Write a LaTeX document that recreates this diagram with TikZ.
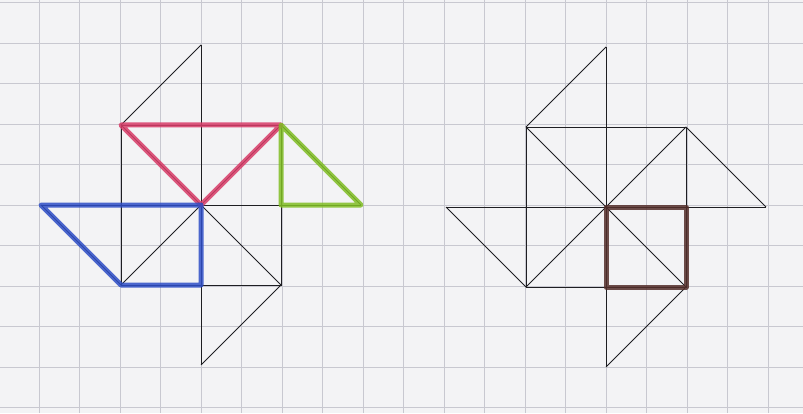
\documentclass[tikz,border=0pt]{standalone}
\usetikzlibrary{calc}
\definecolor{paper}{RGB}{243,243,245}
\definecolor{gridline}{RGB}{200,200,208}
\definecolor{pen}{RGB}{30,30,34}
\definecolor{markred}{RGB}{216,60,104}
\definecolor{markgreen}{RGB}{128,190,36}
\definecolor{markblue}{RGB}{46,78,198}
\definecolor{markbrown}{RGB}{84,46,42}
\tikzset{
  penline/.style={draw=pen, line width=0.9pt},
  marker/.style={draw=#1, line width=5pt, line join=round, line cap=round, opacity=0.85},
}
\newcommand{\pinwheel}[3]{%
  % centre x, centre y, prefix of the point names.
  \begin{scope}[shift={(#1,#2)}, x=40pt, y=40pt]
    \foreach \n/\px/\py in {c/0/0,nw/-2/2,ne/2/2,se/2/-2,sw/-2/-2,n/0/4,e/4/0,s/0/-4,w/-4/0,te/2/0,ts/0/-2}{%
      \coordinate (#3\n) at (\px,\py);
    }
    \draw[penline] (#3n) -- (#3s);
    \draw[penline] (#3w) -- (#3e);
    \draw[penline] (#3nw) -- (#3ne) -- (#3se) -- (#3sw) -- cycle;
    \draw[penline] (#3nw) -- (#3se);
    \draw[penline] (#3ne) -- (#3sw);
    % the four blades
    \draw[penline] (#3n) -- (#3nw);
    \draw[penline] (#3e) -- (#3ne);
    \draw[penline] (#3s) -- (#3se);
    \draw[penline] (#3w) -- (#3sw);
  \end{scope}
}

\begin{document}
\begin{tikzpicture}[x=1pt,y=1pt]
  \useasboundingbox (0,0) rectangle (803,413);
  \fill[paper] (0,0) rectangle (803,413);
  % squared paper
  \foreach \i in {-5,...,15}{%
    \draw[gridline, line width=0.7pt] ({201+\i*40.5},0) -- ++(0,413);
  }
  \foreach \j in {-5,...,5}{%
    \draw[gridline, line width=0.7pt] (0,{208+\j*40.5}) -- ++(803,0);
  }
  \pinwheel{201}{208}{L}
  \pinwheel{606}{206}{R}
  % coloured parts
  \draw[marker=markred] (Lnw) -- (Lne) -- (Lc) -- cycle;
  \draw[marker=markgreen] (Lne) -- (Lte) -- (Le) -- cycle;
  \draw[marker=markblue] (Lw) -- (Lc) -- (Lts) -- (Lsw) -- cycle;
  \draw[marker=markbrown, line width=5pt] (Rc) -- (Rte) -- (Rse) -- (Rts) -- cycle;
\end{tikzpicture}
\end{document}
